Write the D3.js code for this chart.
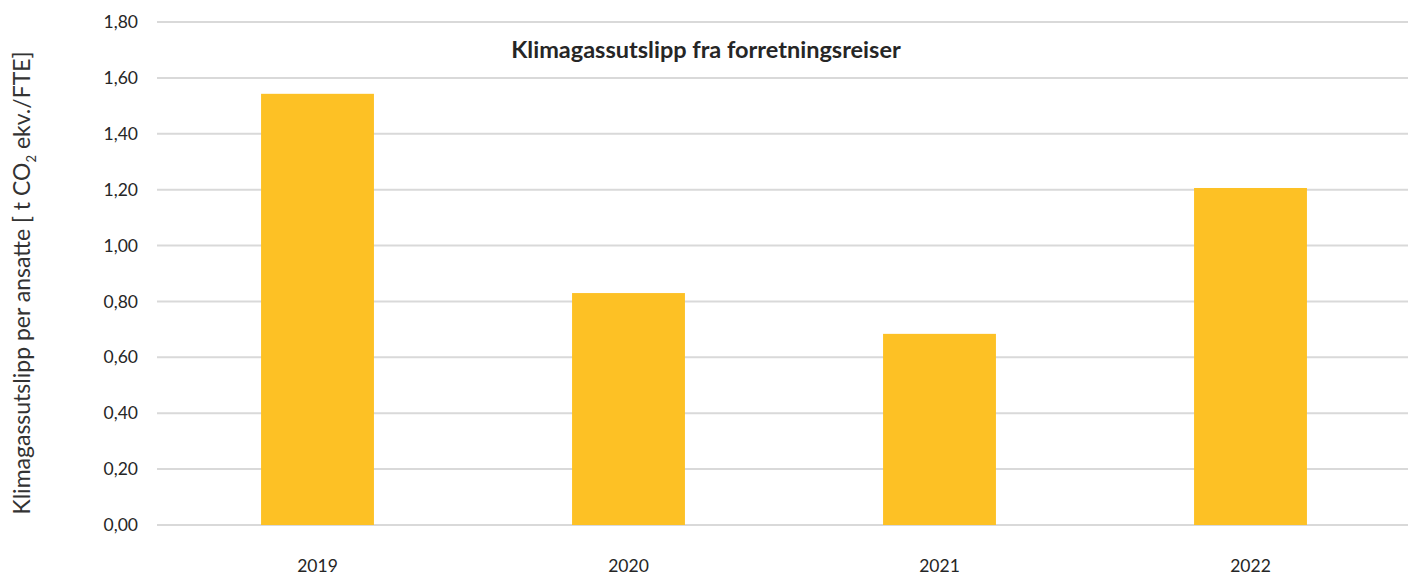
<!DOCTYPE html>
<html>
<head>
<meta charset="utf-8">
<script src="https://cdn.jsdelivr.net/npm/d3@7"></script>
<style>
  body { margin: 0; background: #fff; }
  text { font-family: "Source Sans Pro", Lato, "Noto Sans", sans-serif; fill: #262626; }
</style>
</head>
<body>
<div id="chart"></div>
<script>
// data
const years = ["2019", "2020", "2021", "2022"];
const values = [1.543, 0.830, 0.684, 1.206];
const yTicks = [0, 0.2, 0.4, 0.6, 0.8, 1.0, 1.2, 1.4, 1.6, 1.8];
const title = "Klimagassutslipp fra forretningsreiser";

const W = 1408, H = 577;
const plot = {left: 157, right: 1408, top: 22, bottom: 525};

const svg = d3.select("#chart")
    .append("svg")
        .attr("width", W)
        .attr("height", H);

const x = d3.scaleBand()
    .domain(years)
    .range([162, 1406])
    .paddingInner(0.637)
    .paddingOuter(0.3185);

const y = d3.scaleLinear()
    .domain([0, 1.8])
    .range([plot.bottom, plot.top]);

const fmt = d => d3.format(".2f")(d).replace(".", ",");

// gridlines
svg.append("g")
    .selectAll("line")
    .data(yTicks)
    .join("line")
        .attr("x1", plot.left)
        .attr("x2", plot.right)
        .attr("y1", d => y(d))
        .attr("y2", d => y(d))
        .attr("stroke", "#d9d9d9")
        .attr("stroke-width", 2);

// y tick labels
svg.append("g")
    .selectAll("text")
    .data(yTicks)
    .join("text")
        .attr("x", 138)
        .attr("y", d => y(d))
        .attr("dy", "0.35em")
        .attr("text-anchor", "end")
        .style("font-size", "17.5px")
        .text(fmt);

// bars
svg.append("g")
    .selectAll("rect")
    .data(values)
    .join("rect")
        .attr("x", (d, i) => x(years[i]))
        .attr("y", d => y(d))
        .attr("width", x.bandwidth())
        .attr("height", d => y(0) - y(d))
        .attr("fill", "#fdc125");

// x labels
svg.append("g")
    .selectAll("text")
    .data(years)
    .join("text")
        .attr("x", d => x(d) + x.bandwidth() / 2)
        .attr("y", 566)
        .attr("dy", "0.35em")
        .attr("text-anchor", "middle")
        .style("font-size", "17.5px")
        .text(d => d);

// title
svg.append("text")
    .attr("x", 706)
    .attr("y", 50)
    .attr("dy", "0.35em")
    .attr("text-anchor", "middle")
    .style("font-size", "23.5px")
    .style("font-weight", "bold")
    .text(title);

// y axis title with subscript
const yt = svg.append("text")
    .attr("transform", "translate(22, 283) rotate(-90)")
    .attr("dy", "0.35em")
    .attr("text-anchor", "middle")
    .style("fill", "#333")
    .style("font-size", "23px");
yt.append("tspan").text("Klimagassutslipp per ansatte [ t CO");
yt.append("tspan").attr("dy", "6").style("font-size", "13px").text("2");
yt.append("tspan").attr("dy", "-6").text(" ekv./FTE]");
</script>
</body>
</html>
